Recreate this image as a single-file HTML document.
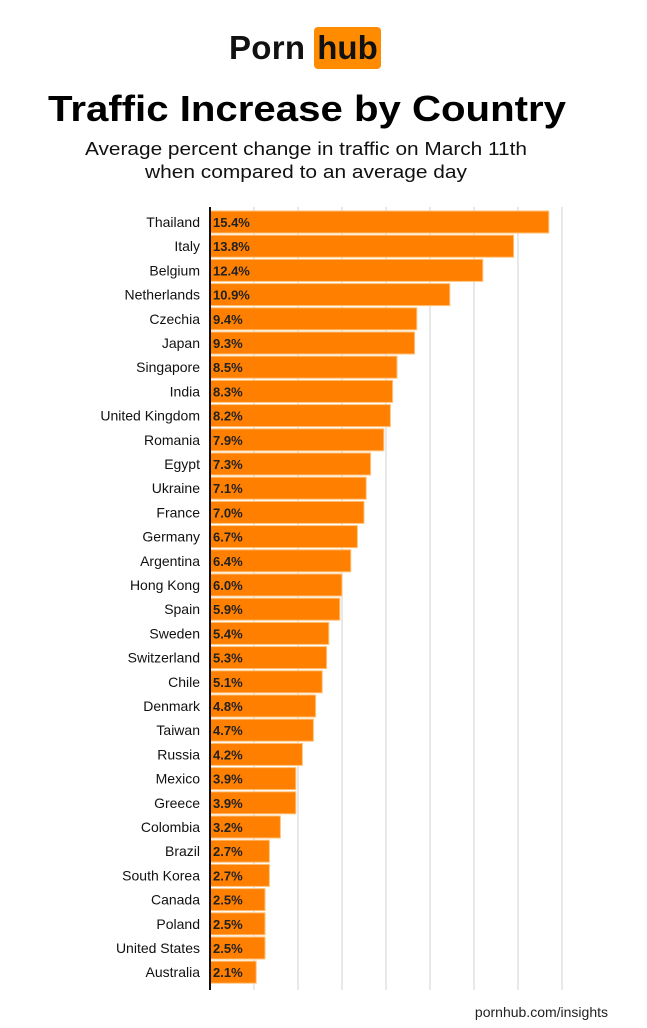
<!DOCTYPE html>
<html><head><meta charset="utf-8"><style>
body{margin:0;background:#fff;width:647px;height:1023px;overflow:hidden;font-family:"Liberation Sans",sans-serif}
</style></head><body>
<svg width="647" height="1023">
<g>
<text x="229" y="59" font-size="33" font-weight="bold" fill="#111" textLength="76">Porn</text>
<rect x="314" y="27" width="67" height="42" rx="4" fill="#ff8c00"/>
<text x="347.5" y="59" font-size="33" font-weight="bold" fill="#111" text-anchor="middle">hub</text>
</g>
<text x="48" y="121" font-size="36" font-weight="bold" fill="#000" textLength="518" lengthAdjust="spacingAndGlyphs">Traffic Increase by Country</text>
<text x="85" y="155" font-size="18" fill="#111" textLength="442" lengthAdjust="spacingAndGlyphs">Average percent change in traffic on March 11th</text>
<text x="145" y="178" font-size="18" fill="#111" textLength="322" lengthAdjust="spacingAndGlyphs">when compared to an average day</text>
<g id="grid"></g><g id="bars"></g>
<line x1="210" y1="207" x2="210" y2="990" stroke="#111" stroke-width="2"/>
<text x="608" y="1017" font-size="14" fill="#222" text-anchor="end">pornhub.com/insights</text>
</svg>
<script>
const categories=["Thailand","Italy","Belgium","Netherlands","Czechia","Japan","Singapore","India","United Kingdom","Romania","Egypt","Ukraine","France","Germany","Argentina","Hong Kong","Spain","Sweden","Switzerland","Chile","Denmark","Taiwan","Russia","Mexico","Greece","Colombia","Brazil","South Korea","Canada","Poland","United States","Australia"];
const values=[15.4,13.8,12.4,10.9,9.4,9.3,8.5,8.3,8.2,7.9,7.3,7.1,7.0,6.7,6.4,6.0,5.9,5.4,5.3,5.1,4.8,4.7,4.2,3.9,3.9,3.2,2.7,2.7,2.5,2.5,2.5,2.1];
const gridTicks=[2,4,6,8,10,12,14,16];
const NS="http://www.w3.org/2000/svg";
const x=v=>210+v*22;
const y=i=>222+i*24.2;
function mk(t,a,p){const e=document.createElementNS(NS,t);for(const k in a)e.setAttribute(k,a[k]);p.appendChild(e);return e;}
const g=document.getElementById('grid'),b=document.getElementById('bars');
gridTicks.forEach(t=>{const l=mk('line',{x1:x(t),x2:x(t),y1:207,y2:990,stroke:'#d0d0d0','stroke-width':1},g);

});
categories.forEach((c,i)=>{
const r=mk('rect',{x:210,y:y(i)-11,width:x(values[i])-210,height:22,fill:'#ff7f00',stroke:'#ffc27a','stroke-width':1},b);


const v=mk('text',{x:213,y:y(i)+5,'font-size':13,'font-weight':'bold',fill:'#222'},b);v.textContent=values[i].toFixed(1)+'%';


const l=mk('text',{x:200,y:y(i)+5,'font-size':14,fill:'#111','text-anchor':'end'},b);l.textContent=c;


});
</script>
</body></html>
